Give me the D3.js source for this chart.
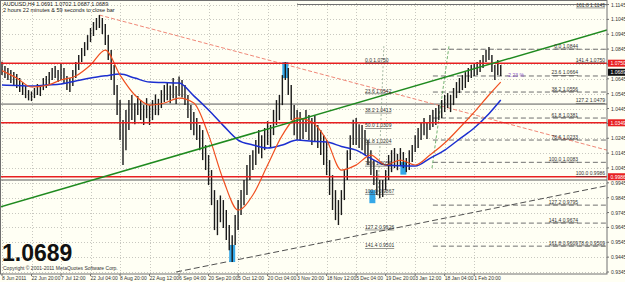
<!DOCTYPE html>
<html>
<head>
<meta charset="utf-8">
<script src="https://cdn.jsdelivr.net/npm/d3@7"></script>
<style>
  body { margin: 0; background: #fffff4; }
  text { font-family: "Liberation Sans", Arial, sans-serif; }
</style>
</head>
<body>
<div id="chart"></div>
<script>
// ---- data ----
const symbolTitle = "AUDUSD,H4  1.0691 1.0702 1.0687 1.0689";
const timerText = "2 hours 22 minutes & 59 seconds to close bar";
const bigPrice = "1.0689";
const copyright = "Copyright \u00A9 2001-2011 MetaQuotes Software Corp.";
const pipsText = "-2.23 %";

const priceTicks = [1.1145, 1.1045, 1.0945, 1.0845, 1.0745, 1.0645, 1.0545, 1.0445, 1.0345, 1.0245,
                    1.0145, 1.0045, 0.9945, 0.9845, 0.9745, 0.9645, 0.9545, 0.9445, 0.9345];

const dateLabels = ["8 Jun 2011", "22 Jun 20:00", "7 Jul 12:00", "22 Jul 04:00", "8 Aug 20:00", "22 Aug 12:00",
                    "6 Sep 04:00", "20 Sep 20:00", "5 Oct 12:00", "20 Oct 04:00", "3 Nov 20:00", "18 Nov 12:00",
                    "5 Dec 04:00", "19 Dec 20:00", "3 Jan 12:00", "18 Jan 04:00", "1 Feb 20:00"];
const dateBars = [0, 10, 20, 30, 40, 50, 60, 70, 80, 90, 100, 110, 120, 130, 140, 150, 160];

const highs = [
  1.0760, 1.0731, 1.0717, 1.0704, 1.0690, 1.0677, 1.0650, 1.0623, 1.0596, 1.0569,
  1.0560, 1.0583, 1.0610, 1.0596, 1.0650, 1.0664, 1.0690, 1.0717, 1.0731, 1.0704,
  1.0744, 1.0717, 1.0664, 1.0650, 1.0704, 1.0758, 1.0805, 1.0852, 1.0892, 1.0939,
  1.0987, 1.1027, 1.1054, 1.1074, 1.1054, 1.1013, 1.0939, 1.0838, 1.0738, 1.0603,
  1.0502, 1.0367, 1.0435, 1.0502, 1.0536, 1.0480, 1.0529, 1.0502, 1.0468, 1.0515,
  1.0468, 1.0502, 1.0540, 1.0510, 1.0569, 1.0603, 1.0623, 1.0600, 1.0650, 1.0596,
  1.0660, 1.0637, 1.0603, 1.0536, 1.0468, 1.0421, 1.0381, 1.0334, 1.0300, 1.0199,
  1.0132, 1.0031, 0.9896, 0.9829, 0.9860, 0.9829, 0.9762, 0.9661, 0.9593, 0.9728,
  0.9829, 0.9896, 0.9964, 1.0065, 1.0132, 1.0165, 1.0233, 1.0300, 1.0266, 1.0314,
  1.0360, 1.0334, 1.0435, 1.0502, 1.0536, 1.0670, 1.0758, 1.0717, 1.0603, 1.0468,
  1.0435, 1.0421, 1.0380, 1.0435, 1.0401, 1.0381, 1.0400, 1.0334, 1.0300, 1.0266,
  1.0233, 1.0098, 0.9997, 0.9896, 0.9829, 0.9896, 1.0031, 1.0165, 1.0266, 1.0370,
  1.0381, 1.0340, 1.0334, 1.0300, 1.0233, 1.0165, 1.0098, 1.0031, 0.9964, 0.9964,
  1.0031, 1.0132, 1.0165, 1.0179, 1.0140, 1.0179, 1.0152, 1.0112, 1.0165, 1.0199,
  1.0266, 1.0314, 1.0354, 1.0381, 1.0350, 1.0401, 1.0435, 1.0448, 1.0468, 1.0502,
  1.0536, 1.0549, 1.0536, 1.0583, 1.0623, 1.0650, 1.0670, 1.0690, 1.0717, 1.0738,
  1.0744, 1.0758, 1.0771, 1.0805, 1.0838, 1.0859, 1.0805, 1.0738, 1.0771, 1.0738
];
const lows = [
  1.0670, 1.0650, 1.0637, 1.0616, 1.0596, 1.0583, 1.0556, 1.0536, 1.0515, 1.0500,
  1.0495, 1.0515, 1.0536, 1.0529, 1.0569, 1.0583, 1.0610, 1.0637, 1.0650, 1.0623,
  1.0637, 1.0610, 1.0569, 1.0556, 1.0596, 1.0650, 1.0704, 1.0758, 1.0798, 1.0838,
  1.0892, 1.0933, 1.0973, 1.0987, 1.0946, 1.0872, 1.0771, 1.0637, 1.0536, 1.0401,
  1.0233, 1.0065, 1.0165, 1.0300, 1.0367, 1.0340, 1.0401, 1.0367, 1.0334, 1.0380,
  1.0334, 1.0367, 1.0401, 1.0400, 1.0448, 1.0489, 1.0500, 1.0480, 1.0515, 1.0475,
  1.0529, 1.0520, 1.0468, 1.0381, 1.0300, 1.0266, 1.0233, 1.0165, 1.0098, 1.0031,
  0.9930, 0.9795, 0.9627, 0.9593, 0.9680, 0.9641, 0.9560, 0.9492, 0.9412, 0.9526,
  0.9627, 0.9728, 0.9795, 0.9863, 0.9964, 1.0031, 1.0065, 1.0140, 1.0110, 1.0165,
  1.0200, 1.0180, 1.0266, 1.0334, 1.0367, 1.0468, 1.0637, 1.0536, 1.0367, 1.0266,
  1.0233, 1.0233, 1.0240, 1.0287, 1.0233, 1.0199, 1.0220, 1.0179, 1.0132, 1.0065,
  0.9997, 0.9863, 0.9762, 0.9694, 0.9661, 0.9728, 0.9829, 0.9964, 1.0098, 1.0200,
  1.0199, 1.0179, 1.0165, 1.0132, 1.0065, 0.9997, 0.9930, 0.9863, 0.9842, 0.9849,
  0.9896, 0.9964, 1.0017, 1.0044, 1.0030, 1.0065, 1.0044, 1.0017, 1.0031, 1.0085,
  1.0152, 1.0179, 1.0233, 1.0266, 1.0240, 1.0300, 1.0320, 1.0334, 1.0367, 1.0381,
  1.0421, 1.0448, 1.0421, 1.0468, 1.0515, 1.0549, 1.0569, 1.0583, 1.0623, 1.0650,
  1.0664, 1.0670, 1.0690, 1.0717, 1.0758, 1.0771, 1.0690, 1.0637, 1.0670, 1.0664
];

// moving averages, one value every 5 bars (last one at bar 169)
const maBars = [0, 5, 10, 15, 20, 25, 30, 35, 40, 45, 50, 55, 60, 65, 70, 75, 80, 85, 90, 95, 100,
                105, 110, 115, 120, 125, 130, 135, 140, 145, 150, 155, 160, 165, 169];
const maRed = [1.0700, 1.0650, 1.0590, 1.0600, 1.0637, 1.0664, 1.0738, 1.0838, 1.0670, 1.0536, 1.0468,
               1.0482, 1.0515, 1.0482, 1.0266, 0.9964, 0.9762, 0.9863, 1.0065, 1.0266, 1.0381,
               1.0354, 1.0233, 1.0031, 1.0065, 1.0132, 1.0065, 1.0098, 1.0065, 1.0132, 1.0213,
               1.0314, 1.0421, 1.0536, 1.0623];
const maBlue = [1.0603, 1.0600, 1.0596, 1.0603, 1.0610, 1.0630, 1.0650, 1.0665, 1.0677, 1.0650, 1.0623,
                1.0620, 1.0616, 1.0530, 1.0435, 1.0330, 1.0233, 1.0200, 1.0179, 1.0200, 1.0233,
                1.0225, 1.0219, 1.0190, 1.0165, 1.0110, 1.0065, 1.0060, 1.0058, 1.0110, 1.0165,
                1.0240, 1.0314, 1.0410, 1.0502];

// horizontal levels drawn across the whole chart
const redLevels = [1.0750, 1.0349, 0.9986];
const grayLevels = [1.0475, 0.9964];

// right fibonacci level lines (start bar 146, run to the right edge)
const fibRightPrices = [1.0844, 1.0664, 1.0556, 1.0381, 1.0233, 1.0083, 0.9795, 0.9674, 0.9519];
const fibRightLabels = ["0.0 1.0844", "23.6 1.0664", "38.2 1.0556", "61.8 1.0381", "78.6 1.0233",
                        "100.0 1.0083", "127.2 0.9795", "141.4 0.9674", "161.8 0.9609"];
const extraRightLabels = ["161.8 1.1145", "141.4 1.0750", "127.2 1.0479", "100.0 0.9986", "78.6 0.9509"];
const extraRightPrices = [1.1120, 1.0750, 1.0479, 0.9986, 0.9519];

// left fibonacci labels
const fibLeftLabels = ["0.0 1.0750", "23.6 1.0542", "38.2 1.0413", "50.0 1.0309", "61.8 1.0204", "78.6 1.0056",
                       "100.0 0.9867", "127.2 0.9626", "141.4 0.9501"];
const fibLeftPrices = [1.0750, 1.0542, 1.0413, 1.0309, 1.0204, 1.0056, 0.9867, 0.9626, 0.9501];

// trend lines [bar, price] pairs
const greenLine = [[-0.7, 0.9782], [205, 1.0973]];
const salmonLine = [[33, 1.1074], [205, 1.0165]];
const dashedLine = [[59, 0.9345], [205, 0.9926]];
const fibDiagRight = [[145.7, 1.0044], [151.5, 1.0872]];
const fibDiagLeft = [[127.4, 0.9856], [129.4, 1.0872]];

// cyan markers [bar, high, low]
const markers = [[78, 0.9527, 0.9412], [96, 1.0758, 1.0650], [125.5, 0.9896, 0.9808], [136, 1.0085, 1.0000]];

// ---- chart ----
const width = 625, height = 282;
const plot = {left: 0, top: 0, right: 607, bottom: 274};

const svg = d3.select("#chart").append("svg")
  .attr("width", width).attr("height", height)
  .style("display", "block");

svg.append("rect").attr("width", width).attr("height", height).attr("fill", "#fffff4");

const x = d3.scaleLinear().domain([0, 205]).range([2, 607]);
const y = d3.scaleLinear().domain([0.9345, 1.1145]).range([272, 4.5]);

const chart = svg.append("g");
chart.append("clipPath").attr("id", "clip")
  .append("rect").attr("x", plot.left).attr("y", plot.top)
  .attr("width", plot.right - plot.left).attr("height", plot.bottom - plot.top);
const inner = chart.append("g").attr("clip-path", "url(#clip)");

// grid
inner.append("g").selectAll("line").data(priceTicks).join("line")
  .attr("x1", 0).attr("x2", plot.right)
  .attr("y1", d => Math.round(y(d)) + 0.5).attr("y2", d => Math.round(y(d)) + 0.5)
  .attr("stroke", "#c8c8c0").attr("stroke-dasharray", "1,2");
inner.append("g").selectAll("line").data(dateBars).join("line")
  .attr("x1", d => Math.round(x(d)) + 0.5).attr("x2", d => Math.round(x(d)) + 0.5)
  .attr("y1", 0).attr("y2", plot.bottom)
  .attr("stroke", "#c8c8c0").attr("stroke-dasharray", "1,2");

// horizontal levels
inner.append("g").selectAll("line").data(grayLevels).join("line")
  .attr("x1", 0).attr("x2", plot.right)
  .attr("y1", d => y(d)).attr("y2", d => y(d))
  .attr("stroke", "#5a5a5a").attr("stroke-width", 1);

// right fib dashed lines
inner.append("g").selectAll("line").data(fibRightPrices).join("line")
  .attr("x1", x(146)).attr("x2", plot.right)
  .attr("y1", d => y(d)).attr("y2", d => y(d))
  .attr("stroke", "#707070").attr("stroke-dasharray", "5,3");
inner.append("line").attr("x1", x(100)).attr("x2", plot.right)
  .attr("y1", y(1.1145)).attr("y2", y(1.1145)).attr("stroke", "#707070");

// trend lines
const line = d3.line().x(d => x(d[0])).y(d => y(d[1]));
inner.append("path").attr("d", line(salmonLine)).attr("fill", "none")
  .attr("stroke", "#f08878").attr("stroke-width", 1).attr("stroke-dasharray", "4,2");
inner.append("path").attr("d", line(dashedLine)).attr("fill", "none")
  .attr("stroke", "#505050").attr("stroke-width", 1).attr("stroke-dasharray", "6,3");
inner.append("path").attr("d", line(fibDiagRight)).attr("fill", "none")
  .attr("stroke", "#50a050").attr("stroke-width", 0.8).attr("stroke-dasharray", "3,2");
inner.append("path").attr("d", line(fibDiagLeft)).attr("fill", "none")
  .attr("stroke", "#90a890").attr("stroke-width", 0.8).attr("stroke-dasharray", "2,2");

// cyan markers
inner.append("g").selectAll("rect").data(markers).join("rect")
  .attr("x", d => x(d[0]) - 3).attr("width", 6)
  .attr("y", d => y(d[1])).attr("height", d => y(d[2]) - y(d[1]))
  .attr("fill", "#35a8e8");

// bars
const bars = highs.map((h, i) => ({i, h, l: lows[i]}));
inner.append("g").selectAll("line").data(bars).join("line")
  .attr("x1", d => x(d.i)).attr("x2", d => x(d.i))
  .attr("y1", d => y(d.h)).attr("y2", d => y(d.l))
  .attr("stroke", "#1a1a1a").attr("stroke-width", 1.4);

// moving averages
const maLine = d3.line().x((d, i) => x(maBars[i])).y(d => y(d)).curve(d3.curveMonotoneX);
inner.append("path").attr("d", maLine(maBlue)).attr("fill", "none")
  .attr("stroke", "#1c2fd0").attr("stroke-width", 1.5);
inner.append("path").attr("d", maLine(maRed)).attr("fill", "none")
  .attr("stroke", "#f05020").attr("stroke-width", 1.2);

// red levels and green trend line on top
inner.append("g").selectAll("line").data(redLevels).join("line")
  .attr("x1", 0).attr("x2", plot.right)
  .attr("y1", d => y(d)).attr("y2", d => y(d))
  .attr("stroke", "#e82020").attr("stroke-width", 1.5);
inner.append("path").attr("d", line(greenLine)).attr("fill", "none")
  .attr("stroke", "#1f8a1f").attr("stroke-width", 1.5);

// fib labels
const labelFont = "5px";
inner.append("g").selectAll("text").data(fibLeftLabels).join("text")
  .attr("x", x(123)).attr("y", (d, i) => y(fibLeftPrices[i]) - 1.5)
  .attr("font-size", labelFont).attr("fill", "#333").attr("text-decoration", "underline")
  .text(d => d);
inner.append("g").selectAll("text").data(fibRightLabels).join("text")
  .attr("x", 578).attr("y", (d, i) => y(fibRightPrices[i]) - 1.5)
  .attr("text-anchor", "end")
  .attr("font-size", labelFont).attr("fill", "#333").attr("text-decoration", "underline")
  .text(d => d);
inner.append("g").selectAll("text").data(extraRightLabels).join("text")
  .attr("x", 605).attr("y", (d, i) => y(extraRightPrices[i]) - 1.5)
  .attr("text-anchor", "end")
  .attr("font-size", labelFont).attr("fill", "#333").attr("text-decoration", "underline")
  .text(d => d);
inner.append("text").attr("x", x(171)).attr("y", y(1.0664) + 1.5)
  .attr("font-size", labelFont).attr("fill", "#8a4fc8").text(pipsText);

// plot frame
chart.append("rect").attr("x", 0.5).attr("y", 0.5)
  .attr("width", plot.right - 0.5).attr("height", plot.bottom - 0.5)
  .attr("fill", "none").attr("stroke", "#707070");

// price axis labels
const axis = svg.append("g");
axis.selectAll("text").data(priceTicks).join("text")
  .attr("x", 611).attr("y", d => y(d) + 2)
  .attr("font-size", labelFont).attr("fill", "#333")
  .text(d => d.toFixed(4));
axis.selectAll("line").data(priceTicks).join("line")
  .attr("x1", 607).attr("x2", 609).attr("y1", d => y(d)).attr("y2", d => y(d))
  .attr("stroke", "#707070");

// price boxes
const boxes = [[1.0750, "#e82020", "#fff"], [1.0689, "#101010", "#fff"], [1.0349, "#e82020", "#fff"], [0.9986, "#e82020", "#fff"]];
const boxG = svg.append("g").selectAll("g").data(boxes).join("g")
  .attr("transform", d => `translate(608,${y(d[0])})`);
boxG.append("rect").attr("x", 0).attr("y", -3.5).attr("width", 17).attr("height", 7).attr("fill", d => d[1]);
boxG.append("text").attr("x", 2.5).attr("y", 2).attr("font-size", labelFont).attr("fill", d => d[2])
  .text(d => d[0].toFixed(4));

// date labels
svg.append("g").selectAll("text").data(dateLabels).join("text")
  .attr("x", (d, i) => x(dateBars[i]))
  .attr("y", 280)
  .attr("font-size", labelFont).attr("fill", "#333")
  .text(d => d);
svg.append("g").selectAll("line").data(dateBars).join("line")
  .attr("x1", d => x(d)).attr("x2", d => x(d)).attr("y1", 274).attr("y2", 276)
  .attr("stroke", "#707070");

// texts
svg.append("text").attr("x", 3).attr("y", 6).attr("font-size", "5.5px").attr("fill", "#222").text(symbolTitle);
svg.append("text").attr("x", 3).attr("y", 12).attr("font-size", "5.5px").attr("fill", "#222").text(timerText);
svg.append("text").attr("x", 2).attr("y", 261).attr("font-size", "23px").attr("font-weight", "bold")
  .attr("fill", "#111").text(bigPrice);
svg.append("text").attr("x", 3).attr("y", 270).attr("font-size", "5px").attr("fill", "#333").text(copyright);
</script>
</body>
</html>
